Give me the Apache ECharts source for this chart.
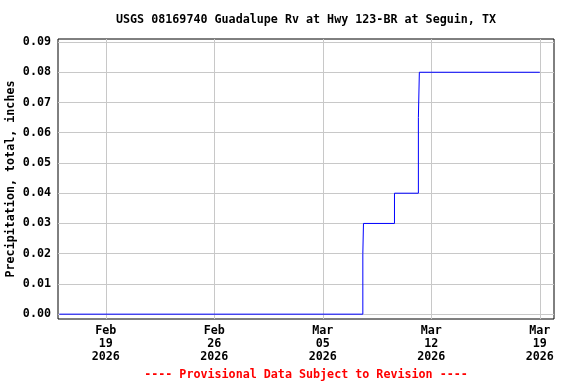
<!DOCTYPE html>
<html>
<head>
<meta charset="utf-8">
<script src="https://cdn.jsdelivr.net/npm/echarts@6/dist/echarts.min.js"></script>
<style>
html,body{margin:0;padding:0;background:#fff;}
#c{width:576px;height:384px;}
</style>
</head>
<body>
<div id="c"></div>
<script>
// Data
var titleText = 'USGS 08169740 Guadalupe Rv at Hwy 123-BR at Seguin, TX';
var footerText = '---- Provisional Data Subject to Revision ----';
var yAxisName = 'Precipitation, total, inches';
var times = ['2026-02-16T00:00', '2026-03-07T14:00', '2026-03-07T15:00', '2026-03-09T15:00', '2026-03-11T04:00', '2026-03-11T05:30', '2026-03-19T00:00'];
var values = [0.00, 0.02, 0.03, 0.04, 0.065, 0.08, 0.08];
var xTickDates = ['2026-02-19T00:00', '2026-02-26T00:00', '2026-03-05T00:00', '2026-03-12T00:00', '2026-03-19T00:00'];
var yTicks = [0.00, 0.01, 0.02, 0.03, 0.04, 0.05, 0.06, 0.07, 0.08, 0.09];
var xRange = ['2026-02-15T22:00', '2026-03-19T22:00'];
var yRange = [-0.0016, 0.091];

function ts(s) { return Date.parse(s + ':00Z'); }
var months = ['Jan','Feb','Mar','Apr','May','Jun','Jul','Aug','Sep','Oct','Nov','Dec'];
function fmtDate(v) {
  var d = new Date(v);
  var dd = d.getUTCDate();
  return months[d.getUTCMonth()] + '\n' + (dd < 10 ? '0' + dd : dd) + '\n' + d.getUTCFullYear();
}

var font = 'DejaVu Sans Mono';
var fs = 11.7;
var seriesData = times.map(function (t, i) { return [ts(t), values[i]]; });
var xTicks = xTickDates.map(ts);

var chart = echarts.init(document.getElementById('c'), null, {renderer: 'canvas'});
chart.setOption({
  animation: false,
  backgroundColor: '#fff',
  grid: {left: 58, right: 22, top: 39, bottom: 65, show: true, borderColor: '#000', borderWidth: 1, backgroundColor: 'transparent', containLabel: false, outerBoundsMode: 'none'},
  graphic: [
    {type: 'text', x: 306, y: 20, style: {text: titleText, fill: '#000', font: 'bold ' + fs + 'px "DejaVu Sans Mono"', textAlign: 'center', textVerticalAlign: 'middle'}},
    {type: 'text', x: 306, y: 375, style: {text: footerText, fill: '#ff0000', font: 'bold ' + fs + 'px "DejaVu Sans Mono"', textAlign: 'center', textVerticalAlign: 'middle'}}
  ],
  xAxis: {
    type: 'value',
    min: ts(xRange[0]),
    max: ts(xRange[1]),
    axisLine: {show: false},
    axisTick: {show: false, customValues: xTicks},
    splitLine: {show: true, lineStyle: {color: '#c8c8c8', width: 1}},
    axisLabel: {
      customValues: xTicks,
      formatter: fmtDate,
      color: '#000', fontFamily: font, fontWeight: 'bold', fontSize: fs,
      lineHeight: 13, margin: 5, align: 'center'
    }
  },
  yAxis: {
    type: 'value',
    min: yRange[0],
    max: yRange[1],
    name: yAxisName,
    nameLocation: 'middle',
    nameGap: 41,
    nameMoveOverlap: false,
    nameRotate: 90,
    nameTextStyle: {color: '#000', fontFamily: font, fontWeight: 'bold', fontSize: fs},
    axisLine: {show: false},
    axisTick: {show: false, customValues: yTicks},
    splitLine: {show: true, lineStyle: {color: '#c8c8c8', width: 1}},
    axisLabel: {
      customValues: yTicks,
      formatter: function (v) { return v.toFixed(2); },
      color: '#000', fontFamily: font, fontWeight: 'bold', fontSize: fs, margin: 7
    }
  },
  series: [{
    type: 'line',
    step: 'end',
    data: seriesData,
    showSymbol: false,
    symbol: 'none',
    lineStyle: {color: '#0000ff', width: 1},
    z: 3
  }]
});
</script>
</body>
</html>
